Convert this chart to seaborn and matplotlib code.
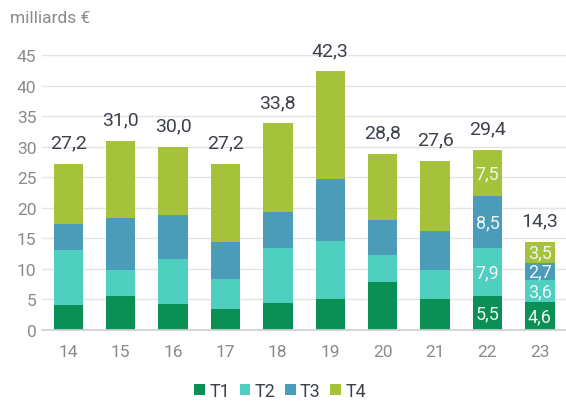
import matplotlib
matplotlib.use("Agg")
import matplotlib.pyplot as plt
import seaborn as sns
import numpy as np
import pandas as pd
from matplotlib.patches import Patch

years = ["14", "15", "16", "17", "18", "19", "20", "21", "22", "23"]
t1 = [4.1, 5.6, 4.3, 3.4, 4.4, 5.0, 7.8, 5.1, 5.5, 4.6]
t2 = [9.0, 4.3, 7.4, 4.9, 9.0, 9.5, 4.5, 4.7, 7.9, 3.6]
t3 = [4.2, 8.4, 7.2, 6.1, 5.9, 10.2, 5.7, 6.4, 8.5, 2.7]
t4 = [9.9, 12.7, 11.1, 12.8, 14.5, 17.6, 10.8, 11.4, 7.5, 3.5]
totals = ["27,2", "31,0", "30,0", "27,2", "33,8", "42,3", "28,8", "27,6", "29,4", "14,3"]
series_names = ["T1", "T2", "T3", "T4"]
labelled_years = ["22", "23"]

colors = ["#0A8F55", "#4FCFC0", "#4A9CB8", "#A5C23A"]

sns.set_theme(style="white")
plt.rcParams["font.family"] = ["Roboto", "DejaVu Sans"]

df = pd.DataFrame({"year": years, "T1": t1, "T2": t2, "T3": t3, "T4": t4})
series = [df[n].to_numpy() for n in series_names]
cums = np.cumsum(np.vstack(series), axis=0)

fig = plt.figure(figsize=(5.66, 4.02), dpi=100)
ax = fig.add_axes([0.0742, 0.1766, 0.926, 0.6841])

for i in range(3, -1, -1):
    d = pd.DataFrame({"year": years, "v": cums[i]})
    sns.barplot(data=d, x="year", y="v", color=colors[i], saturation=1,
                width=0.56, ax=ax, zorder=2, linewidth=0)

ax.set_ylim(0, 45)
ax.set_xlim(-0.5, 9.5)
ax.set_yticks(range(0, 50, 5))
ax.yaxis.grid(True, color="#e3e3e3", linewidth=1, zorder=0)
ax.set_axisbelow(True)
for s in ["top", "right", "left"]:
    ax.spines[s].set_visible(False)
ax.spines["bottom"].set_color("#d0d0d0")
ax.set_xlabel("")
ax.set_ylabel("")
ax.tick_params(axis="y", colors="#8a8a8a", labelsize=12.5, length=0, pad=4)
ax.tick_params(axis="x", colors="#8a8a8a", labelsize=12.5, length=0, pad=10)
for lbl in ax.get_yticklabels() + ax.get_xticklabels():
    lbl.set_color("#8a8a8a")

ax.set_xticks(np.arange(-0.5, 10, 1), minor=True)
ax.tick_params(axis="x", which="minor", length=4, color="#d0d0d0", width=1)

for i, tot in enumerate(totals):
    ax.annotate(tot, (i, cums[3][i]), xytext=(0, 9), textcoords="offset points",
                ha="center", va="bottom", fontsize=14, color="#3c414b",
                annotation_clip=False)

for yr in labelled_years:
    i = years.index(yr)
    for k in range(4):
        val = series[k][i]
        mid = cums[k][i] - val / 2
        ax.text(i, mid, f"{val:.1f}".replace(".", ","), ha="center", va="center",
                fontsize=13, color="#eef5f2", zorder=5)

fig.text(0.018, 0.955, "milliards €", fontsize=12.5, color="#8a8a8a", ha="left", va="center")

handles = [Patch(facecolor=c, edgecolor="none") for c in colors]
fig.legend(handles, series_names, loc="center", bbox_to_anchor=(0.495, 0.025),
           ncol=4, frameon=False, fontsize=13, handlelength=0.6, handleheight=0.6,
           handletextpad=0.25, columnspacing=0.5, labelcolor="#3c414b")

fig.savefig("out.png", dpi=100)
